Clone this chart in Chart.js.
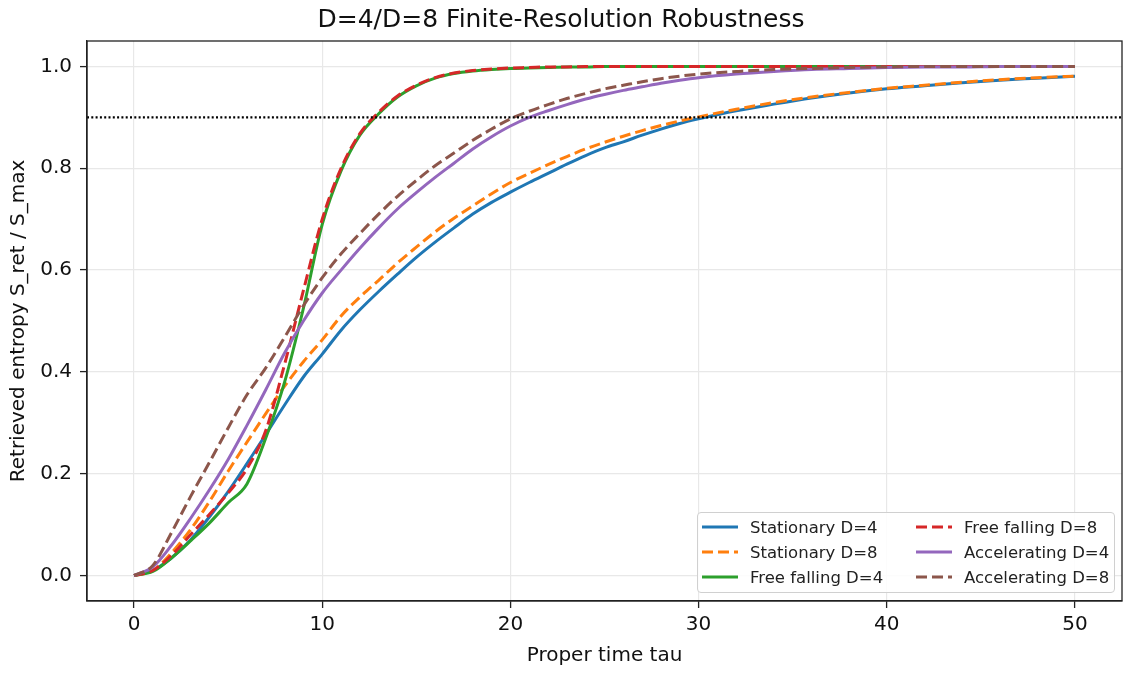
<!DOCTYPE html>
<html>
<head>
<meta charset="utf-8">
<script src="https://cdn.jsdelivr.net/npm/chart.js@4.4.1/dist/chart.umd.min.js"></script>
<style>
  body { margin: 0; background: #fff; }
  #wrap { position: relative; width: 1133px; height: 675px; }
  #legend {
    position: absolute; left: 697px; top: 512px; width: 416px; height: 79px;
    border: 1px solid #d0d0d0; border-radius: 4px; background: rgba(255,255,255,0.85);
    font-family: "DejaVu Sans", sans-serif; font-size: 16.5px; color: #222;
  }
  .item { position: absolute; height: 20px; display: flex; align-items: center; white-space: nowrap; }
  .item svg { margin-right: 12px; }
</style>
</head>
<body>
<div id="wrap">
  <canvas id="chart" width="1133" height="675"></canvas>
  <div id="legend"></div>
</div>
<script>
const tau = [0,1,2,3,4,5,6,7,8,9,10,11,12,13,14,15,16,17,18,19,20,21,22,23,24,25,26,27,28,29,30,32,34,36,38,40,42,44,46,48,50];

const stationaryD4 = [0,0.01,0.035,0.07,0.115,0.165,0.22,0.277,0.335,0.39,0.435,0.482,0.522,0.558,0.592,0.625,0.655,0.683,0.71,0.733,0.753,0.772,0.79,0.808,0.825,0.84,0.852,0.865,0.877,0.888,0.897,0.913,0.926,0.938,0.948,0.956,0.962,0.968,0.973,0.977,0.981];
const stationaryD8 = [0,0.01,0.045,0.09,0.145,0.205,0.262,0.318,0.372,0.42,0.463,0.51,0.547,0.58,0.614,0.645,0.675,0.702,0.726,0.75,0.772,0.79,0.807,0.823,0.838,0.851,0.863,0.874,0.884,0.893,0.901,0.916,0.929,0.94,0.949,0.957,0.963,0.969,0.974,0.978,0.981];
const freeD4 = [0,0.008,0.035,0.068,0.103,0.143,0.18,0.27,0.38,0.525,0.69,0.795,0.865,0.907,0.94,0.962,0.977,0.986,0.991,0.994,0.996,0.997,0.998,0.999,0.999,1,1,1,1,1,1,1,1,1,1,1,1,1,1,1,1];
const freeD8 = [0,0.01,0.04,0.08,0.12,0.162,0.21,0.285,0.415,0.56,0.7,0.8,0.868,0.91,0.942,0.963,0.978,0.987,0.992,0.995,0.997,0.998,0.999,0.999,1,1,1,1,1,1,1,1,1,1,1,1,1,1,1,1,1];
const accelD4 = [0,0.017,0.06,0.112,0.168,0.228,0.295,0.365,0.437,0.5,0.555,0.6,0.643,0.683,0.72,0.752,0.782,0.81,0.838,0.862,0.883,0.9,0.913,0.925,0.936,0.945,0.953,0.96,0.967,0.973,0.978,0.985,0.99,0.994,0.996,0.998,0.999,0.999,1,1,1];
const accelD8 = [0,0.02,0.085,0.155,0.222,0.29,0.355,0.408,0.468,0.53,0.585,0.632,0.672,0.71,0.745,0.776,0.805,0.83,0.855,0.877,0.897,0.912,0.925,0.937,0.947,0.956,0.963,0.97,0.976,0.981,0.985,0.99,0.994,0.996,0.998,0.999,1,1,1,1,1];

const threshold = 0.9;
const xTicks = [0,10,20,30,40,50];
const yTicks = [0,0.2,0.4,0.6,0.8,1.0];

const series = [
  {label: 'Stationary D=4', data: stationaryD4, color: '#1f77b4', dash: []},
  {label: 'Stationary D=8', data: stationaryD8, color: '#ff7f0e', dash: [11,5]},
  {label: 'Free falling D=4', data: freeD4, color: '#2ca02c', dash: []},
  {label: 'Free falling D=8', data: freeD8, color: '#d62728', dash: [11,5]},
  {label: 'Accelerating D=4', data: accelD4, color: '#9467bd', dash: []},
  {label: 'Accelerating D=8', data: accelD8, color: '#8c564b', dash: [11,5]}
];

const datasets = series.map((s, i) => ({
  label: s.label,
  data: tau.map((t, k) => ({x: t, y: s.data[k]})),
  borderColor: s.color,
  borderWidth: 3,
  borderDash: s.dash,
  pointRadius: 0,
  cubicInterpolationMode: 'monotone',
  order: 10 - i
}));
datasets.push({
  label: 'threshold',
  data: [{x: -2.5, y: threshold}, {x: 52.5, y: threshold}],
  borderColor: '#000',
  borderWidth: 2.2,
  borderDash: [2, 2.3],
  pointRadius: 0,
  order: 0
});

const frame = {
  id: 'frame',
  afterDraw(chart) {
    const a = chart.chartArea, c = chart.ctx;
    c.save();
    c.strokeStyle = '#222';
    c.lineWidth = 1.3;
    c.strokeRect(a.left, a.top, a.right - a.left, a.bottom - a.top);
    c.restore();
  }
};

const font = "'DejaVu Sans', sans-serif";
new Chart(document.getElementById('chart'), {
  type: 'line',
  data: {datasets: datasets},
  options: {
    responsive: false,
    animation: false,
    layout: {padding: {left: 0, right: 11, top: 0, bottom: 0}},
    plugins: {
      legend: {display: false},
      tooltip: {enabled: false},
      title: {
        display: true,
        text: 'D=4/D=8 Finite-Resolution Robustness',
        color: '#111',
        font: {family: font, size: 25, weight: 'normal', lineHeight: 1.2},
        padding: {top: 5, bottom: 6}
      }
    },
    scales: {
      x: {
        type: 'linear', min: -2.5, max: 52.5,
        afterBuildTicks: s => { s.ticks = xTicks.map(v => ({value: v})); },
        afterFit: s => { s.height = 74; },
        ticks: {color: '#111', font: {family: font, size: 20}, padding: 5, callback: v => String(v)},
        grid: {color: '#e8e8e8', lineWidth: 1.2, tickColor: '#222', tickLength: 7, tickWidth: 1.3},
        border: {color: '#222', width: 1.3},
        title: {display: true, text: 'Proper time tau', color: '#111', font: {family: font, size: 20}, padding: {top: 0, bottom: 7}}
      },
      y: {
        type: 'linear', min: -0.05, max: 1.05,
        afterBuildTicks: s => { s.ticks = yTicks.map(v => ({value: v})); },
        afterFit: s => { s.width = 87; },
        ticks: {color: '#111', font: {family: font, size: 20}, padding: 8, callback: v => v.toFixed(1)},
        grid: {color: '#e8e8e8', lineWidth: 1.2, tickColor: '#222', tickLength: 7, tickWidth: 1.3},
        border: {color: '#222', width: 1.3},
        title: {display: true, text: 'Retrieved entropy S_ret / S_max', color: '#111', font: {family: font, size: 20}, padding: {top: 7, bottom: 0}}
      }
    }
  },
  plugins: [frame]
});

// legend in two columns, column-major like the reference
const legend = document.getElementById('legend');
series.forEach((s, i) => {
  const col = Math.floor(i / 3), row = i % 3;
  const el = document.createElement('div');
  el.className = 'item';
  el.style.left = (col === 0 ? 4 : 218) + 'px';
  el.style.top = (4 + row * 25) + 'px';
  const dash = s.dash.length ? 'stroke-dasharray="11 5"' : '';
  el.innerHTML = '<svg width="36" height="10"><line x1="0" y1="5" x2="36" y2="5" stroke="' + s.color +
    '" stroke-width="3" ' + dash + '/></svg><span>' + s.label + '</span>';
  legend.appendChild(el);
});
</script>
</body>
</html>
